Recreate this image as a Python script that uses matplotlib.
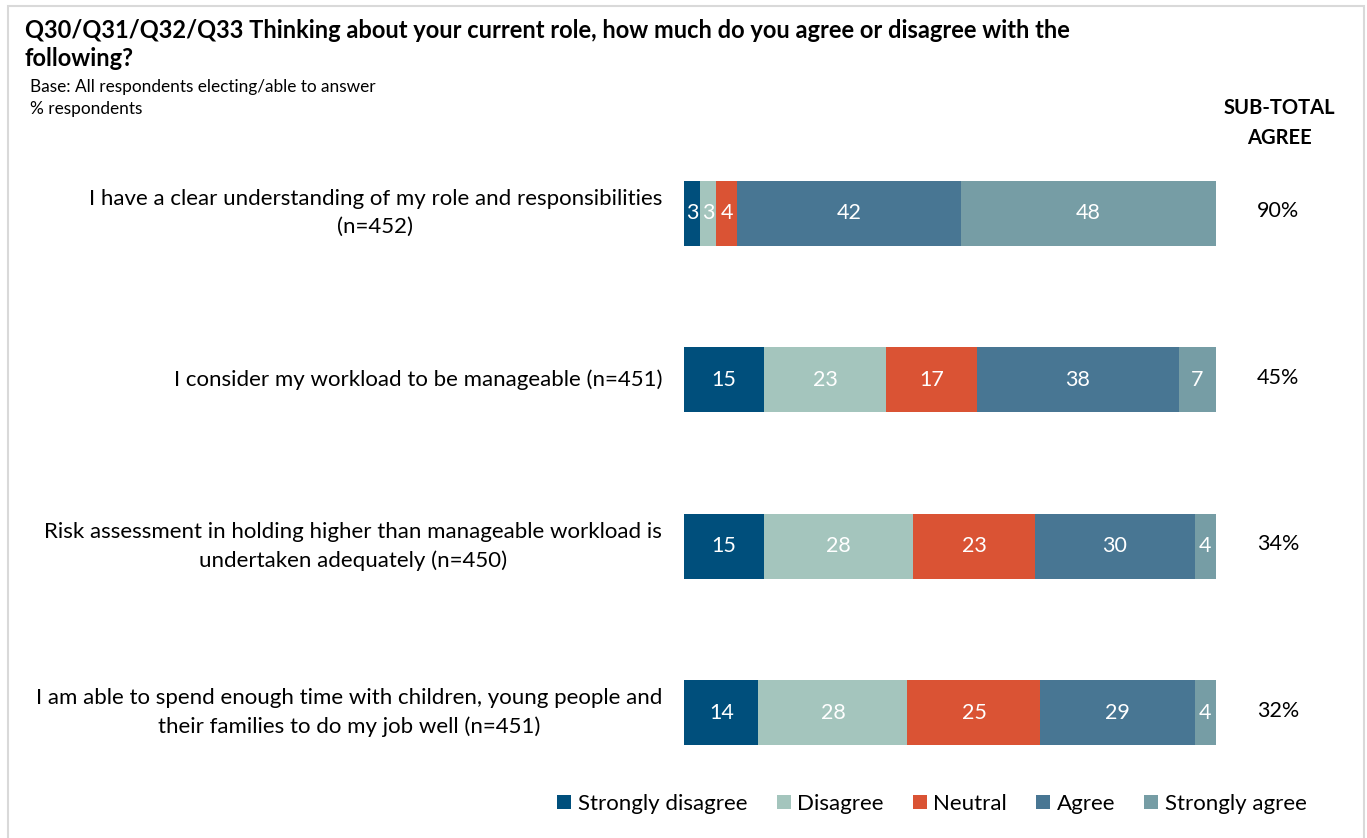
import matplotlib
matplotlib.use("Agg")
import matplotlib.pyplot as plt
from matplotlib.patches import Rectangle, Patch

plt.rcParams['font.family'] = ['Lato', 'DejaVu Sans']

categories = [
    "I have a clear understanding of my role and responsibilities\n(n=452)",
    "I consider my workload to be manageable (n=451)",
    "Risk assessment in holding higher than manageable workload is\nundertaken adequately (n=450)",
    "I am able to spend enough time with children, young people and\ntheir families to do my job well (n=451)",
]
series_names = ["Strongly disagree", "Disagree", "Neutral", "Agree", "Strongly agree"]
strongly_disagree = [3, 15, 15, 14]
disagree = [3, 23, 28, 28]
neutral = [4, 17, 23, 25]
agree = [42, 38, 30, 29]
strongly_agree = [48, 7, 4, 4]
subtotal_agree = ["90%", "45%", "34%", "32%"]
colors = ["#004F7C", "#A4C5BD", "#DA5334", "#487693", "#769DA5"]

W, H = 1367, 838
fig = plt.figure(figsize=(W / 100, H / 100), dpi=100)

def fx(px):
    return px / W

def fy(py):
    return 1 - py / H

# border
fig.patches.append(Rectangle((fx(8), fy(845)), fx(1364) - fx(8), fy(6) - fy(845),
                             transform=fig.transFigure, fill=False,
                             edgecolor="#D9D9D9", linewidth=1.5))

ax = fig.add_axes([fx(684), fy(796), fx(1216) - fx(684), fy(130) - fy(796)])
data = [strongly_disagree, disagree, neutral, agree, strongly_agree]
ypos = list(range(len(categories)))
left = [0] * len(categories)
for vals, c, name in zip(data, colors, series_names):
    bars = ax.barh(ypos, vals, left=left, height=0.39, color=c, label=name)
    for b, v in zip(bars, vals):
        ax.text(b.get_x() + b.get_width() / 2, b.get_y() + b.get_height() / 2, str(v),
                ha="center", va="center", color="white", fontsize=15.5)
    left = [l + v for l, v in zip(left, vals)]

ax.set_xlim(0, 100)
ax.set_ylim(3.5, -0.5)
ax.set_xticks([])
ax.set_yticks([])
for s in ax.spines.values():
    s.set_visible(False)

for i, (cat, st) in enumerate(zip(categories, subtotal_agree)):
    ax.annotate(cat, xy=(0, i), xycoords="data", xytext=(-22, 0), textcoords="offset pixels",
                ha="right", va="center", multialignment="center", fontsize=16,
                linespacing=1.5, color="#000000")
    ax.annotate(st, xy=(100, i), xycoords="data", xytext=(62, 2), textcoords="offset pixels",
                ha="center", va="center", fontsize=15.5, color="#000000")

fig.text(fx(25), fy(30), "Q30/Q31/Q32/Q33 Thinking about your current role, how much do you agree or disagree with the",
         ha="left", va="center", fontsize=17, fontweight="bold")
fig.text(fx(25), fy(59), "following?", ha="left", va="center", fontsize=17, fontweight="bold")
fig.text(fx(30), fy(87), "Base: All respondents electing/able to answer", ha="left", va="center", fontsize=12.4)
fig.text(fx(30), fy(109), "% respondents", ha="left", va="center", fontsize=12.4)
fig.text(fx(1279), fy(123), "SUB-TOTAL\nAGREE", ha="center", va="center", fontsize=14.5,
         fontweight="bold", linespacing=1.6)

handles = [Patch(facecolor=c, edgecolor="none") for c in colors]
fig.legend(handles, series_names, loc="center", bbox_to_anchor=(fx(932), fy(804)), ncol=5,
           frameon=False, fontsize=16, handlelength=0.63, handleheight=0.63,
           handletextpad=0.3, columnspacing=1.3)

fig.savefig("out.png", dpi=100)
